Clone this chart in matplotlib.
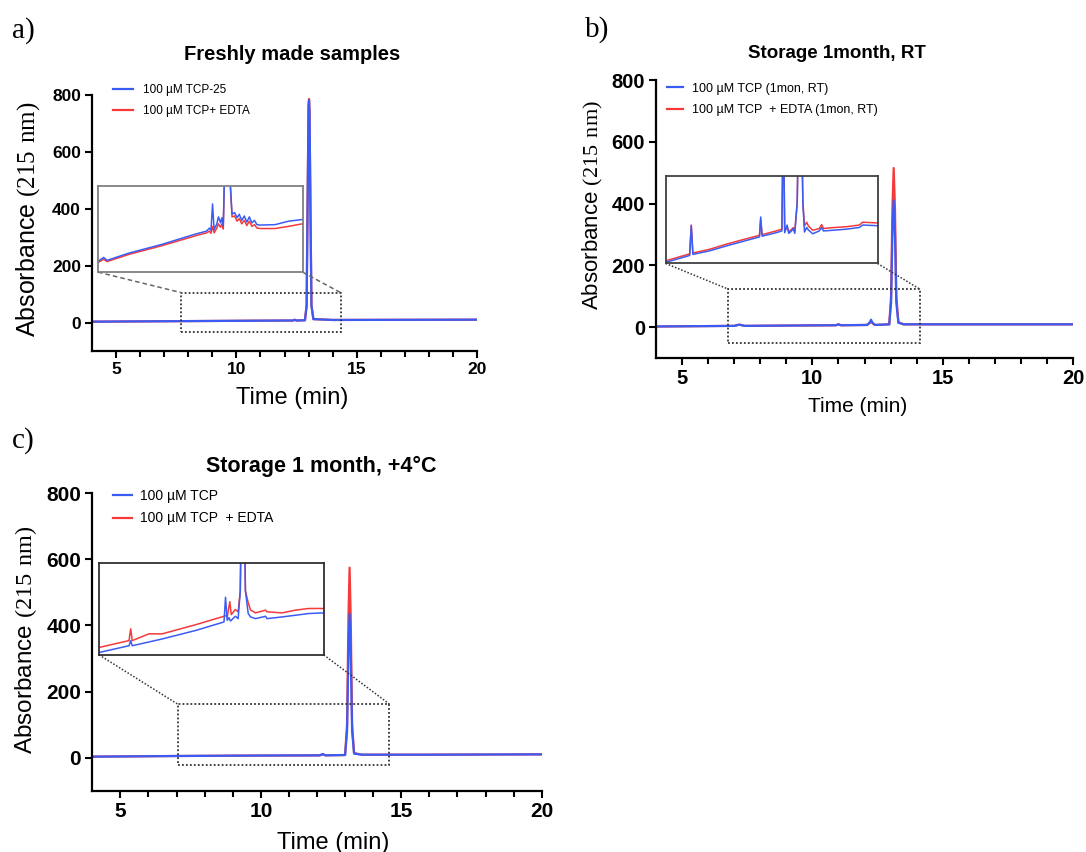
import matplotlib
matplotlib.use("Agg")
import matplotlib.pyplot as plt
from matplotlib.patches import Rectangle

plt.rcParams['font.family'] = ['Liberation Sans', 'DejaVu Sans']
plt.rcParams['mathtext.fontset'] = 'custom'
plt.rcParams['mathtext.rm'] = 'Liberation Serif'

BLUE = '#3a5cf5'
RED = '#f53a3a'

# ---- data (time in min, absorbance at 215 nm) ----
x_ticks = [5, 10, 15, 20]
y_ticks = [0, 200, 400, 600, 800]

# a) freshly made samples
a_time = [4.0, 6.0, 8.0, 10.0, 12.0, 12.35, 12.42, 12.5, 12.85, 12.92, 12.96, 13.0,
          13.02, 13.04, 13.08, 13.12, 13.2, 14.0, 17.0, 20.0]
a_blue = [3, 4, 5, 6, 7, 7, 10, 7, 8, 60, 420, 760, 780, 740, 380, 60, 12, 9, 9.5, 10]
a_red = [3, 4, 5, 6, 7, 7, 9, 7, 8, 60, 425, 765, 785, 745, 385, 60, 12, 9, 9.5, 10]

# a) zoomed inset
a_in_time = [6.50, 6.79, 6.96, 8.08, 9.76, 11.49, 12.07, 12.22, 12.30, 12.38, 12.46,
             12.60, 12.68, 12.79, 12.86, 12.93, 12.99, 13.12, 13.27, 13.38, 13.51,
             13.64, 13.75, 13.88, 14.01, 14.14, 14.27, 14.40, 14.53, 14.66, 14.83,
             15.59, 16.28, 17.0]
a_in_blue = [3.25, 3.70, 3.36, 4.20, 5.20, 6.40, 6.75, 7.10, 6.85, 9.90, 6.90, 7.60,
             8.40, 7.72, 8.30, 7.33, 13, 20, 13, 8.70, 8.90, 8.30, 8.70, 8.00, 8.50,
             7.80, 8.40, 7.70, 8.00, 7.50, 7.45, 7.50, 7.90, 8.10]
a_in_red = [3.10, 3.50, 3.22, 4.05, 5.05, 6.20, 6.55, 6.75, 6.50, 7.30, 6.55, 7.10,
            7.60, 7.20, 7.60, 7.00, 13, 20, 13, 8.40, 8.50, 7.90, 8.20, 7.60, 8.00,
            7.40, 7.90, 7.30, 7.50, 7.10, 7.05, 7.05, 7.30, 7.60]

# b) storage 1 month, RT
b_time = [4.0, 7.0, 7.2, 7.4, 9.0, 10.9, 11.0, 11.1, 12.1, 12.2, 12.25, 12.3, 12.4,
          12.95, 13.02, 13.07, 13.12, 13.17, 13.22, 13.3, 13.5, 16.0, 20.0]
b_blue = [2, 4, 8, 4, 5, 6, 9, 6, 7, 15, 24, 15, 7, 9, 80, 300, 410, 300, 80, 14, 9, 9, 9]
b_red = [2, 4, 8, 4, 5, 6, 9, 6, 7, 13, 20, 13, 7, 9, 100, 380, 515, 380, 100, 16, 9, 9, 9]

b_in_time = [6.50, 7.69, 7.77, 7.85, 8.67, 9.50, 10.32, 11.15, 11.21, 11.28, 11.97,
             12.26, 12.33, 12.40, 12.52, 12.60, 12.74, 12.82, 12.90, 13.02, 13.16,
             13.30, 13.38, 13.49, 13.57, 13.79, 14.11, 14.23, 14.32, 14.78, 15.44,
             16.10, 16.26, 17.00]
b_in_blue = [2.12, 2.92, 6.32, 3.04, 3.44, 4.00, 4.52, 5.04, 7.32, 5.12, 5.52, 5.72,
             20, 5.52, 6.40, 5.44, 5.72, 6.00, 5.44, 9, 30, 9, 5.60, 6.12, 5.84, 5.40,
             5.72, 6.12, 5.72, 5.80, 5.92, 6.12, 6.40, 6.32]
b_in_red = [2.30, 3.10, 6.40, 3.20, 3.62, 4.20, 4.72, 5.22, 7.00, 5.30, 5.72, 5.92,
            20, 5.72, 6.20, 5.64, 5.90, 6.10, 5.70, 9, 30, 9, 6.30, 6.72, 6.30, 5.80,
            6.00, 6.45, 6.00, 6.10, 6.20, 6.40, 6.72, 6.64]

# c) storage 1 month, +4 °C
c_time = [4.0, 7.0, 9.0, 12.1, 12.2, 12.3, 13.0, 13.07, 13.12, 13.16, 13.2, 13.25,
          13.32, 13.6, 16.0, 20.0]
c_blue = [3, 5, 6, 7, 11, 7, 8, 80, 320, 435, 320, 80, 12, 9, 9, 10]
c_red = [3, 5, 6, 7, 10, 7, 8, 100, 425, 575, 425, 100, 14, 9, 9, 10]

c_in_blue_time = [6.50, 7.90, 7.98, 8.05, 9.45, 11.02, 12.34, 12.41, 12.49, 12.57,
                  12.64, 12.87, 13.00, 13.10, 13.22, 13.34, 13.47, 13.58, 13.81,
                  14.28, 14.35, 15.06, 15.68, 16.30, 17.00]
c_in_blue = [2.26, 3.00, 3.56, 3.00, 3.74, 4.67, 5.60, 8.30, 5.78, 6.07, 5.70, 6.22,
             5.96, 9, 30, 9, 6.52, 6.15, 5.96, 6.22, 5.96, 6.15, 6.33, 6.52, 6.59]
c_in_red_time = [6.50, 7.90, 7.98, 8.05, 8.83, 9.45, 11.02, 12.34, 12.41, 12.49,
                 12.61, 12.68, 12.87, 13.00, 13.10, 13.22, 13.34, 13.47, 13.58,
                 13.81, 14.28, 14.35, 15.06, 15.68, 16.30, 17.00]
c_in_red = [2.81, 3.56, 4.85, 3.56, 4.30, 4.30, 5.30, 6.22, 6.30, 6.15, 7.81, 6.40,
            6.96, 6.70, 9, 30, 9, 7.70, 6.90, 6.59, 6.89, 6.70, 6.59, 6.89, 7.07, 7.07]


fig = plt.figure(figsize=(10.86, 8.52), dpi=100)


def px_axes(left, right, top, bottom):
    W, H = 1086, 852
    return fig.add_axes([left / W, 1 - bottom / H, (right - left) / W, (bottom - top) / H])


def style_axes(ax, tick_fs):
    ax.set_xlim(4, 20)
    ax.set_ylim(-100, 800)
    for s in ['top', 'right']:
        ax.spines[s].set_visible(False)
    for s in ['left', 'bottom']:
        ax.spines[s].set_linewidth(1.6)
    ax.set_xticks(x_ticks, labels=[str(v) for v in x_ticks], fontsize=tick_fs, fontweight='bold')
    ax.set_xticks(range(5, 21), minor=True)
    ax.set_yticks(y_ticks, labels=[str(v) for v in y_ticks], fontsize=tick_fs, fontweight='bold')
    ax.tick_params(which='major', direction='out', length=5, width=1.5, pad=3)
    ax.tick_params(which='minor', direction='out', length=4, width=1.5)


def draw_panel(ax, t, blue, red, labels, leg):
    ax.plot(t, red, color=RED, lw=1.6, label=labels[1])
    ax.plot(t, blue, color=BLUE, lw=1.6, label=labels[0])
    h, l = ax.get_legend_handles_labels()
    ax.legend(h[::-1], l[::-1], loc='upper left', bbox_to_anchor=leg['anchor'],
              frameon=False, fontsize=leg['fs'], handlelength=leg['hl'],
              handletextpad=leg['tp'], labelspacing=leg['ls'],
              borderpad=0, borderaxespad=0)


def draw_zoom(ax, inset_rect, box, frame_col, link_style, link_col,
              in_blue, in_red):
    x0, y0, w, h = inset_rect
    ins = ax.inset_axes(inset_rect, transform=ax.transData)
    ins.plot(in_red[0], in_red[1], color=RED, lw=1.1)
    ins.plot(in_blue[0], in_blue[1], color=BLUE, lw=1.1)
    ins.set_xlim(6.5, 17.0)
    ins.set_ylim(2, 12)
    ins.set_xticks([])
    ins.set_yticks([])
    for s in ins.spines.values():
        s.set_color(frame_col)
        s.set_linewidth(1.3)
    bx0, by0, bw, bh = box
    ax.add_patch(Rectangle((bx0, by0), bw, bh, fill=False, ls=(0, (1, 1.2)),
                           lw=1.3, ec='#333333', zorder=3))
    ax.plot([x0, bx0], [y0, by0 + bh], ls=link_style, color=link_col, lw=1.1, zorder=3)
    ax.plot([x0 + w, bx0 + bw], [y0, by0 + bh], ls=link_style, color=link_col, lw=1.1, zorder=3)


# ---------------- panel a ----------------
ax_a = px_axes(92, 477, 94.7, 351)
style_axes(ax_a, 12.5)
draw_panel(ax_a, a_time, a_blue, a_red,
           ['100 µM TCP-25', '100 µM TCP+ EDTA'],
           dict(anchor=(0.055, 1.04), fs=8.5, hl=1.7, tp=0.85, ls=0.75))
draw_zoom(ax_a, (4.25, 177, 8.5, 303), (7.7, -32, 6.63, 137), '#808080',
          (0, (3, 2)), '#666666', (a_in_time, a_in_blue), (a_in_time, a_in_red))
ax_a.set_ylabel('Absorbance $\\mathrm{(215\\ nm)}$', fontsize=18)
ax_a.yaxis.set_label_coords(-0.13, 0.513)
ax_a.set_xlabel('Time (min)', fontsize=17)
ax_a.xaxis.set_label_coords(0.519, -0.14)
fig.text(292 / 1086, 1 - 55 / 852, 'Freshly made samples', ha='center', va='center',
         fontsize=14.5, fontweight='bold')
fig.text(12 / 1086, 1 - 31 / 852, 'a)', ha='left', va='center', fontsize=21,
         family='Liberation Serif')

# ---------------- panel b ----------------
ax_b = px_axes(656, 1073, 80, 358)
style_axes(ax_b, 14.5)
draw_panel(ax_b, b_time, b_blue, b_red,
           ['100 µM TCP (1mon, RT)', '100 µM TCP  + EDTA (1mon, RT)'],
           dict(anchor=(0.026, 0.99), fs=9, hl=1.3, tp=0.7, ls=0.75))
draw_zoom(ax_b, (4.37, 206, 8.13, 283), (6.77, -52, 7.35, 175), '#404040',
          (0, (1, 1.2)), '#333333', (b_in_time, b_in_blue), (b_in_time, b_in_red))
ax_b.set_ylabel('Absorbance $\\mathrm{(215\\ nm)}$', fontsize=16)
ax_b.yaxis.set_label_coords(-0.122, 0.549)
ax_b.set_xlabel('Time (min)', fontsize=15)
ax_b.xaxis.set_label_coords(0.484, -0.14)
fig.text(837 / 1086, 1 - 54 / 852, 'Storage 1month, RT', ha='center', va='center',
         fontsize=13.5, fontweight='bold')
fig.text(585 / 1086, 1 - 30 / 852, 'b)', ha='left', va='center', fontsize=21,
         family='Liberation Serif')

# ---------------- panel c ----------------
ax_c = px_axes(92.3, 541.7, 493.3, 790.7)
style_axes(ax_c, 15)
draw_panel(ax_c, c_time, c_blue, c_red,
           ['100 µM TCP', '100 µM TCP  + EDTA'],
           dict(anchor=(0.046, 1.014), fs=10, hl=1.37, tp=0.58, ls=0.6))
draw_zoom(ax_c, (4.24, 311, 8.0, 277), (7.04, -23, 7.54, 185), '#303030',
          (0, (1, 1.2)), '#333333', (c_in_blue_time, c_in_blue), (c_in_red_time, c_in_red))
ax_c.set_ylabel('Absorbance $\\mathrm{(215\\ nm)}$', fontsize=17.5)
ax_c.yaxis.set_label_coords(-0.119, 0.507)
ax_c.set_xlabel('Time (min)', fontsize=17)
ax_c.xaxis.set_label_coords(0.536, -0.139)
fig.text(321 / 1086, 1 - 466 / 852, 'Storage 1 month, +4°C', ha='center', va='center',
         fontsize=15.5, fontweight='bold')
fig.text(12 / 1086, 1 - 441 / 852, 'c)', ha='left', va='center', fontsize=21,
         family='Liberation Serif')

fig.savefig('out.png', dpi=100)
